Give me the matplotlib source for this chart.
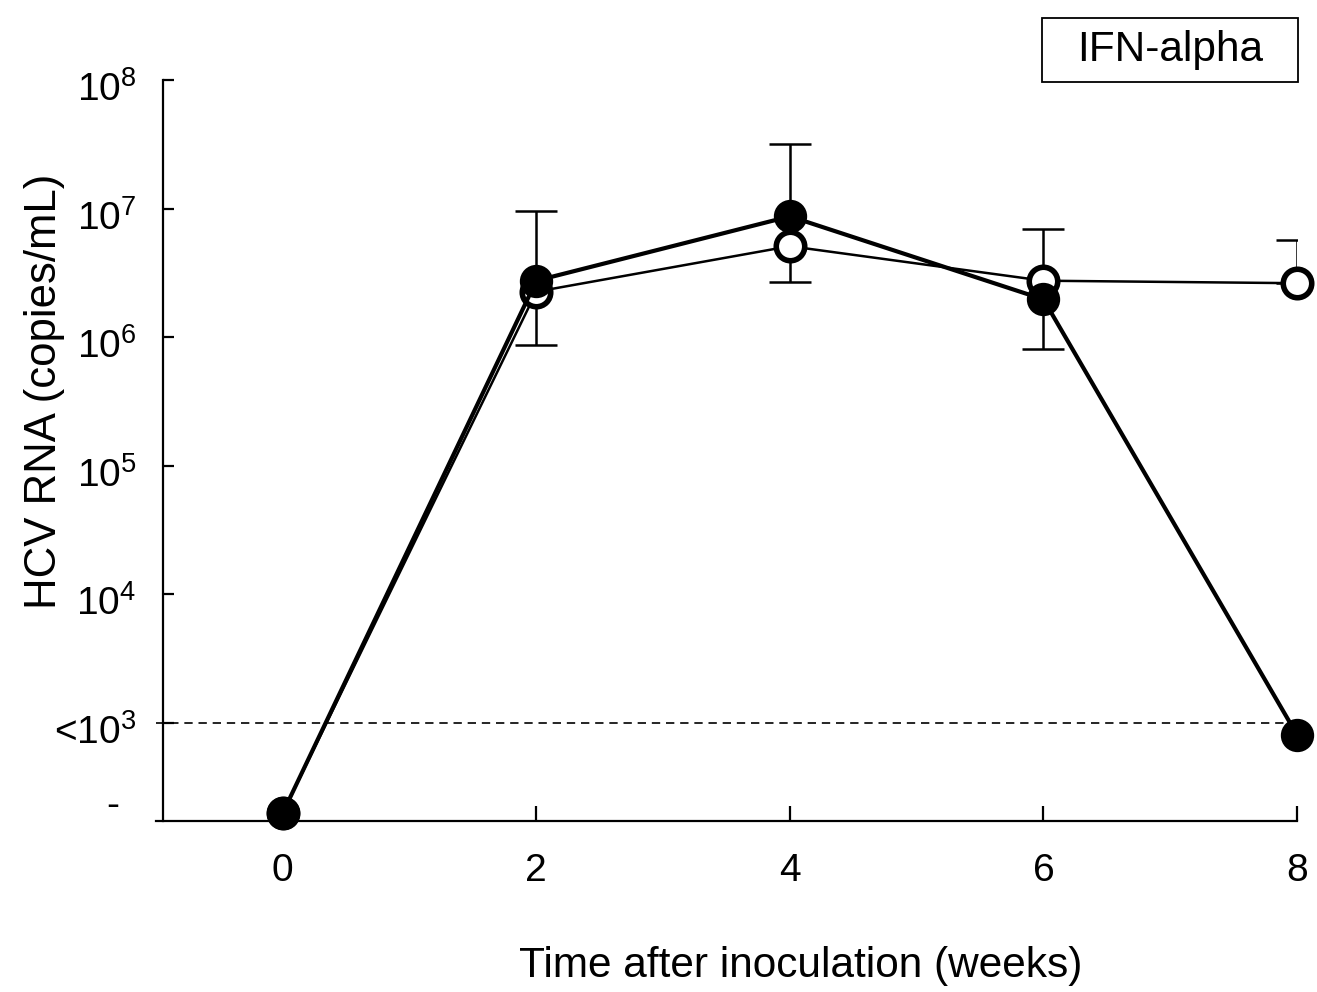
import numpy as np
import matplotlib
matplotlib.use('Agg')
import matplotlib.pyplot as plt
from matplotlib.patches import Rectangle
from matplotlib.ticker import FixedLocator, FixedFormatter
from matplotlib.transforms import ScaledTranslation

plt.rcParams['font.family'] = ['Liberation Sans', 'DejaVu Sans']
plt.rcParams['mathtext.fontset'] = 'custom'
plt.rcParams['mathtext.rm'] = 'Liberation Sans'
plt.rcParams['mathtext.it'] = 'Liberation Sans'

# HCV RNA, copies/mL
weeks = [0, 2, 4, 6, 8]
filled_rna = [2.0e2, 2.75e6, 8.7e6, 1.97e6, 8.1e2]
open_rna = [2.0e2, 2.26e6, 5.1e6, 2.75e6, 2.63e6]

# error bars (on the open series), weeks 2-8
err_weeks = [2, 4, 6, 8]
err_center = [2.26e6, 5.1e6, 2.75e6, 2.63e6]
err_high = [9.5e6, 3.2e7, 7.0e6, 5.75e6]
err_low = [8.7e5, 2.7e6, 8.1e5, 2.63e6]

detect_limit = 1e3
ytick_vals = [1e3, 1e4, 1e5, 1e6, 1e7, 1e8]
ytick_labels = [r'<10$^{3}$', r'10$^{4}$', r'10$^{5}$', r'10$^{6}$', r'10$^{7}$', r'10$^{8}$']
xtick_vals = [0, 2, 4, 6, 8]

W, H = 1317, 992
fig = plt.figure(figsize=(W / 100, H / 100), dpi=100)
ax = fig.add_axes([156 / W, 1 - 821 / H, (1297 - 156) / W, (821 - 80) / H])

ax.set_yscale('log')
ax.set_xlim(-1.0, 8.0)
ax.set_ylim(10 ** 2.238, 1e8)

# detection limit
ax.axhline(detect_limit, color='black', lw=1.2, ls=(0, (5, 3.5)), zorder=1)

lo = np.array(err_center) - np.array(err_low)
hi = np.array(err_high) - np.array(err_center)
ax.errorbar(err_weeks, err_center, yerr=[lo, hi], fmt='none', ecolor='black',
            elinewidth=1.8, capsize=15, capthick=1.8, zorder=2)

ax.plot(weeks, open_rna, color='black', lw=1.8, marker='o', ms=20.5,
        mfc='white', mec='black', mew=4, zorder=3, clip_on=False)
ax.plot(weeks, filled_rna, color='black', lw=3, marker='o', ms=21,
        mfc='black', mec='black', mew=3, zorder=4, clip_on=False)

for s in ['top', 'right']:
    ax.spines[s].set_visible(False)
ax.spines['left'].set_position(('data', -0.947))
ax.spines['left'].set_linewidth(1.6)
ax.spines['bottom'].set_linewidth(1.6)

ax.yaxis.set_major_locator(FixedLocator(ytick_vals))
ax.yaxis.set_major_formatter(FixedFormatter(ytick_labels))
ax.yaxis.set_minor_locator(FixedLocator([10 ** 2.386]))
ax.yaxis.set_minor_formatter(FixedFormatter(['-']))
ax.tick_params(axis='y', which='major', direction='in', length=8, width=1.6,
               labelsize=28, pad=19)
ax.tick_params(axis='y', which='minor', length=0, labelsize=28, pad=31)

# nudge the y labels down a little
shift = ScaledTranslation(0, -6 / 100, fig.dpi_scale_trans)
for lab in ax.get_yticklabels():
    lab.set_transform(lab.get_transform() + shift)

ax.set_xticks(xtick_vals)
ax.set_xticklabels([str(v) for v in xtick_vals])
ax.tick_params(axis='x', direction='in', length=11, width=1.6, labelsize=28,
               pad=23)

fig.text(45 / W, 1 - 391 / H, 'HCV RNA (copies/mL)', rotation=90,
         ha='center', va='center', fontsize=31.5)
fig.text(801 / W, 1 - 966 / H, 'Time after inoculation (weeks)',
         ha='center', va='center', fontsize=30.5)

# treatment label box
fig.patches.append(Rectangle((1042 / W, 1 - 82 / H), 256 / W, 64 / H,
                             transform=fig.transFigure, fill=False,
                             edgecolor='black', lw=1.3))
fig.text(1170 / W, 1 - 50 / H, 'IFN-alpha', ha='center', va='center',
         fontsize=30.5)

fig.savefig('out.png', dpi=100)
